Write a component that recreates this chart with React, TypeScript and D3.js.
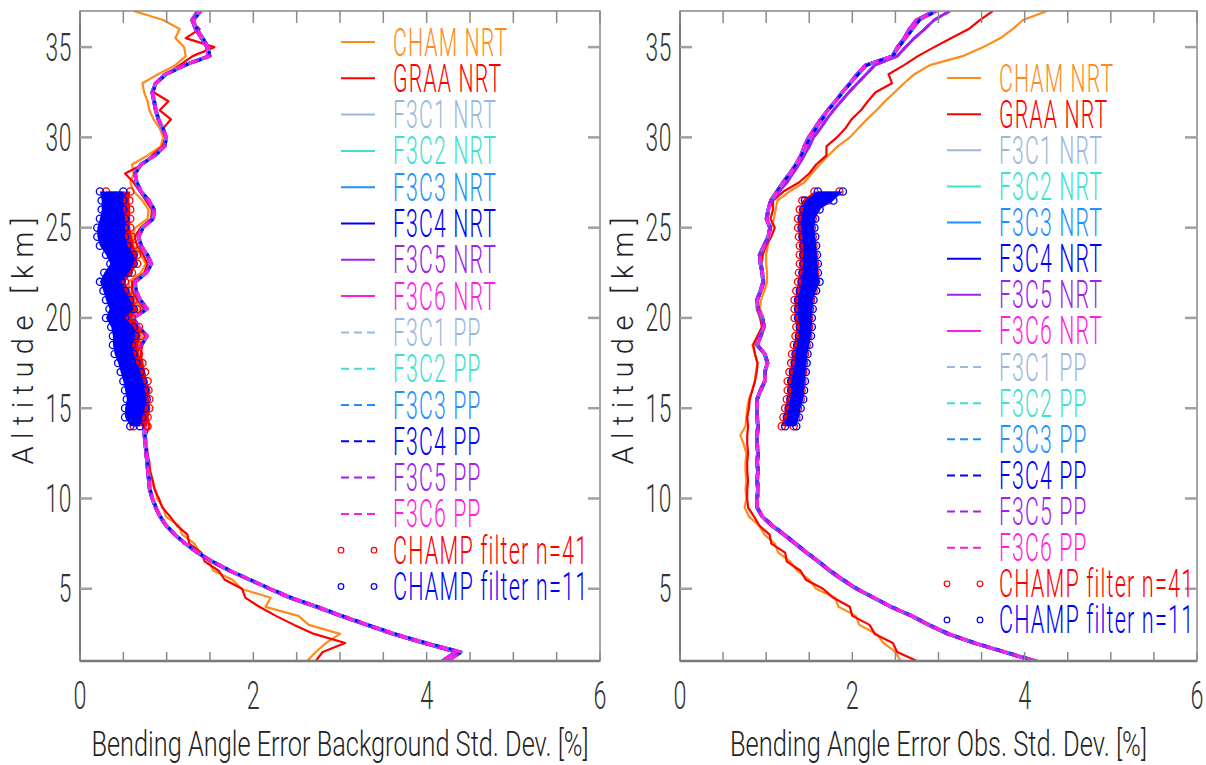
import React from 'react';
import * as d3 from 'd3';

// ---------------- DATA ----------------
// altitude grid (km) shared by all profile lines
const altitudes = [
  1, 1.5, 2, 2.5, 3, 3.5, 4, 4.5, 5, 5.5,
  6, 6.5, 7, 7.5, 8, 8.5, 9, 9.5, 10, 10.5,
  11, 11.5, 12, 12.5, 13, 13.5, 14, 14.5, 15, 15.5,
  16, 16.5, 17, 17.5, 18, 18.5, 19, 19.5, 20, 20.5,
  21, 21.5, 22, 22.5, 23, 23.5, 24, 24.5, 25, 25.5,
  26, 26.5, 27, 27.5, 28, 28.5, 29, 29.5, 30, 30.5,
  31, 31.5, 32, 32.5, 33, 33.5, 34, 34.5, 35, 35.5,
  36, 36.5, 37,
];

// ---- Background std. dev. panel [%] ----
const bgCham = [
  2.62, 2.72, 2.84, 3.00, 2.64, 2.52, 2.14, 2.20, 1.86, 1.76,
  1.54, 1.49, 1.38, 1.32, 1.18, 1.14, 0.99, 0.96, 0.89, 0.87,
  0.82, 0.80, 0.78, 0.77, 0.76, 0.75, 0.74, 0.72, 0.73, 0.72,
  0.70, 0.68, 0.64, 0.60, 0.58, 0.66, 0.72, 0.62, 0.56, 0.70,
  0.63, 0.57, 0.56, 0.70, 0.76, 0.70, 0.62, 0.60, 0.64, 0.78,
  0.79, 0.72, 0.62, 0.58, 0.62, 0.60, 0.78, 0.93, 0.96, 0.92,
  0.85, 0.80, 0.78, 0.74, 0.72, 0.90, 1.10, 1.22, 1.20, 1.10,
  1.15, 0.96, 0.62,
];
const bgGraa = [
  2.72, 2.80, 3.06, 2.70, 2.47, 2.26, 2.07, 1.91, 1.87, 1.67,
  1.60, 1.44, 1.40, 1.26, 1.24, 1.12, 1.04, 0.95, 0.91, 0.86,
  0.84, 0.81, 0.80, 0.78, 0.77, 0.76, 0.80, 0.78, 0.80, 0.78,
  0.80, 0.76, 0.74, 0.72, 0.70, 0.72, 0.77, 0.68, 0.62, 0.74,
  0.66, 0.60, 0.60, 0.74, 0.78, 0.73, 0.66, 0.63, 0.70, 0.82,
  0.83, 0.76, 0.69, 0.62, 0.52, 0.72, 0.83, 0.95, 0.99, 0.96,
  1.05, 0.92, 1.02, 0.85, 0.86, 1.00, 1.15, 1.30, 1.55, 1.22,
  1.38, 1.28, 1.35,
];
const bgF3cNrt = [
  4.18, 4.33, 3.95, 3.60, 3.30, 3.00, 2.72, 2.42, 2.18, 1.95,
  1.72, 1.52, 1.35, 1.21, 1.09, 0.99, 0.92, 0.87, 0.83, 0.80,
  0.79, 0.78, 0.77, 0.76, 0.75, 0.74, 0.74, 0.75, 0.76, 0.75,
  0.74, 0.72, 0.67, 0.64, 0.63, 0.70, 0.77, 0.66, 0.61, 0.77,
  0.69, 0.64, 0.63, 0.76, 0.82, 0.77, 0.70, 0.67, 0.72, 0.84,
  0.85, 0.79, 0.70, 0.65, 0.63, 0.70, 0.86, 0.97, 0.99, 0.95,
  0.90, 0.87, 0.85, 0.83, 0.87, 0.98, 1.20, 1.48, 1.46, 1.40,
  1.33, 1.29, 1.38,
];
const bgF3cPp = [
  4.25, 4.40, 4.00, 3.64, 3.33, 3.03, 2.75, 2.45, 2.20, 1.97,
  1.74, 1.54, 1.36, 1.22, 1.10, 1.00, 0.93, 0.88, 0.84, 0.81,
  0.80, 0.79, 0.78, 0.77, 0.76, 0.75, 0.75, 0.76, 0.77, 0.76,
  0.75, 0.73, 0.68, 0.65, 0.64, 0.71, 0.78, 0.68, 0.62, 0.78,
  0.70, 0.65, 0.64, 0.77, 0.83, 0.78, 0.71, 0.68, 0.73, 0.85,
  0.86, 0.80, 0.71, 0.66, 0.64, 0.71, 0.87, 0.98, 1.00, 0.96,
  0.91, 0.88, 0.86, 0.84, 0.88, 1.00, 1.22, 1.50, 1.48, 1.42,
  1.35, 1.31, 1.40,
];

// ---- Observation std. dev. panel [%] ----
const obsCham = [
  2.56, 2.50, 2.36, 2.28, 2.08, 2.04, 1.84, 1.80, 1.58, 1.50,
  1.36, 1.28, 1.14, 1.10, 0.98, 0.92, 0.80, 0.75, 0.77, 0.76,
  0.77, 0.76, 0.76, 0.77, 0.74, 0.70, 0.76, 0.77, 0.78, 0.80,
  0.84, 0.87, 0.88, 0.90, 0.87, 0.84, 0.90, 0.98, 0.97, 0.93,
  0.94, 0.98, 1.01, 1.01, 1.00, 1.00, 1.02, 1.03, 1.06, 1.09,
  1.11, 1.13, 1.27, 1.44, 1.53, 1.62, 1.72, 1.83, 1.97, 2.07,
  2.17, 2.28, 2.38, 2.49, 2.60, 2.72, 2.90, 3.28, 3.52, 3.72,
  3.86, 3.98, 4.26,
];
const obsGraa = [
  2.75, 2.52, 2.47, 2.26, 2.20, 2.00, 1.97, 1.78, 1.66, 1.46,
  1.40, 1.24, 1.22, 1.06, 1.04, 0.92, 0.86, 0.79, 0.78, 0.78,
  0.79, 0.78, 0.78, 0.79, 0.78, 0.78, 0.79, 0.78, 0.80, 0.81,
  0.84, 0.87, 0.89, 0.90, 0.87, 0.85, 0.90, 0.95, 0.93, 0.89,
  0.90, 0.95, 0.98, 0.96, 0.95, 0.96, 1.00, 1.06, 1.10, 1.05,
  1.08, 1.08, 1.20, 1.38, 1.50, 1.58, 1.70, 1.70, 1.82, 1.92,
  1.99, 2.10, 2.18, 2.27, 2.46, 2.42, 2.60, 2.76, 2.95, 3.15,
  3.35, 3.48, 3.63,
];
const obsF3cNrt = [
  4.10, 3.75, 3.40, 3.10, 2.88, 2.68, 2.44, 2.24, 2.04, 1.88,
  1.73, 1.60, 1.46, 1.33, 1.20, 1.06, 0.95, 0.89, 0.89, 0.90,
  0.89, 0.90, 0.89, 0.90, 0.89, 0.89, 0.90, 0.89, 0.89, 0.89,
  0.93, 0.98, 0.98, 1.01, 0.98, 0.89, 0.93, 0.97, 0.95, 0.90,
  0.89, 0.93, 0.96, 0.95, 0.93, 0.92, 0.97, 1.02, 1.04, 1.00,
  1.02, 1.05, 1.12, 1.19, 1.27, 1.34, 1.40, 1.44, 1.49, 1.56,
  1.63, 1.71, 1.80, 1.88, 1.97, 2.05, 2.15, 2.46, 2.52, 2.60,
  2.66, 2.74, 2.95,
];
const obsF3cPp = [
  4.14, 3.78, 3.43, 3.13, 2.90, 2.70, 2.46, 2.26, 2.06, 1.90,
  1.75, 1.62, 1.48, 1.35, 1.22, 1.08, 0.96, 0.90, 0.90, 0.91,
  0.90, 0.91, 0.90, 0.91, 0.90, 0.90, 0.91, 0.90, 0.90, 0.90,
  0.94, 0.99, 0.99, 1.02, 0.99, 0.90, 0.94, 0.98, 0.96, 0.91,
  0.90, 0.94, 0.97, 0.96, 0.94, 0.93, 0.98, 1.03, 1.05, 1.01,
  1.03, 1.06, 1.13, 1.20, 1.28, 1.35, 1.41, 1.46, 1.51, 1.58,
  1.65, 1.72, 1.81, 1.89, 1.98, 2.07, 2.17, 2.47, 2.54, 2.62,
  2.70, 2.78, 2.98,
];
const obsF3c5 = [
  4.11, 3.76, 3.41, 3.11, 2.89, 2.69, 2.45, 2.25, 2.05, 1.89,
  1.74, 1.61, 1.47, 1.34, 1.21, 1.07, 0.96, 0.90, 0.90, 0.91,
  0.90, 0.91, 0.90, 0.91, 0.90, 0.90, 0.91, 0.90, 0.90, 0.90,
  0.94, 0.99, 0.99, 1.02, 0.99, 0.90, 0.94, 0.98, 0.96, 0.91,
  0.90, 0.94, 0.97, 0.96, 0.94, 0.93, 0.98, 1.03, 1.05, 1.01,
  1.03, 1.06, 1.15, 1.24, 1.31, 1.38, 1.44, 1.50, 1.55, 1.63,
  1.70, 1.78, 1.87, 1.96, 2.06, 2.16, 2.26, 2.52, 2.62, 2.72,
  2.84, 2.95, 3.13,
];

// CHAMP filter clouds: altitude grid and min / max of the circles
const champAltitudes = [
  14, 14.5, 15, 15.5, 16, 16.5, 17, 17.5, 18, 18.5,
  19, 19.5, 20, 20.5, 21, 21.5, 22, 22.5, 23, 23.5,
  24, 24.5, 25, 25.5, 26, 26.5, 27,
];
const bgChamp41Lo = [0.62, 0.58, 0.58, 0.60, 0.58, 0.56, 0.52, 0.50, 0.46, 0.44, 0.44, 0.42, 0.36, 0.40, 0.36, 0.32, 0.30, 0.34, 0.40, 0.36, 0.30, 0.27, 0.27, 0.30, 0.32, 0.32, 0.30];
const bgChamp41Hi = [0.78, 0.78, 0.80, 0.80, 0.79, 0.78, 0.75, 0.72, 0.68, 0.67, 0.70, 0.68, 0.60, 0.66, 0.62, 0.57, 0.52, 0.60, 0.66, 0.66, 0.62, 0.60, 0.58, 0.58, 0.58, 0.57, 0.58];
const bgChamp11Lo = [0.58, 0.52, 0.52, 0.54, 0.52, 0.50, 0.47, 0.44, 0.40, 0.38, 0.38, 0.36, 0.30, 0.34, 0.30, 0.27, 0.23, 0.28, 0.35, 0.30, 0.23, 0.20, 0.20, 0.23, 0.25, 0.25, 0.23];
const bgChamp11Hi = [0.69, 0.72, 0.75, 0.77, 0.75, 0.73, 0.70, 0.65, 0.62, 0.60, 0.64, 0.62, 0.52, 0.62, 0.58, 0.52, 0.48, 0.56, 0.62, 0.62, 0.55, 0.52, 0.52, 0.52, 0.50, 0.50, 0.50];
const obsChamp41Lo = [1.18, 1.20, 1.22, 1.24, 1.25, 1.25, 1.27, 1.29, 1.30, 1.32, 1.34, 1.35, 1.33, 1.33, 1.33, 1.35, 1.37, 1.38, 1.39, 1.39, 1.39, 1.38, 1.37, 1.37, 1.39, 1.42, 1.56];
const obsChamp41Hi = [1.32, 1.35, 1.37, 1.40, 1.41, 1.42, 1.43, 1.44, 1.45, 1.47, 1.49, 1.50, 1.50, 1.51, 1.52, 1.55, 1.58, 1.57, 1.57, 1.56, 1.55, 1.54, 1.53, 1.54, 1.58, 1.72, 1.85];
const obsChamp11Lo = [1.22, 1.24, 1.26, 1.28, 1.29, 1.29, 1.31, 1.33, 1.34, 1.36, 1.38, 1.39, 1.37, 1.37, 1.37, 1.39, 1.41, 1.42, 1.43, 1.43, 1.43, 1.42, 1.41, 1.41, 1.43, 1.45, 1.60];
const obsChamp11Hi = [1.35, 1.38, 1.40, 1.43, 1.44, 1.45, 1.46, 1.47, 1.48, 1.50, 1.52, 1.53, 1.53, 1.54, 1.55, 1.58, 1.62, 1.60, 1.60, 1.59, 1.58, 1.57, 1.56, 1.57, 1.62, 1.78, 1.89];

// ticks
const xLabelTicks = [0, 2, 4, 6];
const xMinorTicks = [0, 0.5, 1, 1.5, 2, 2.5, 3, 3.5, 4, 4.5, 5, 5.5, 6];
const yTicks = [5, 10, 15, 20, 25, 30, 35];

// series names & colours
const centres = ['F3C1', 'F3C2', 'F3C3', 'F3C4', 'F3C5', 'F3C6'];
const f3cColors = ['#9bb8dc', '#40e0d0', '#1e90ff', '#0000ff', '#a020f0', '#ff1ee0'];
const chamColor = '#ff8c1a';
const graaColor = '#ff0000';
const champ41Color = '#ff0000';
const champ11Color = '#0000ff';

// ---------------- LAYOUT ----------------
const W = 1206;
const H = 765;
const TOP = 11;
const BOTTOM = 661;
const FONT = "Roboto, 'DejaVu Sans', sans-serif";
const WEIGHT = 300;

type LineSeries = { name: string; color: string; dashed: boolean; values: number[]; idx: number };
type PanelCfg = {
  id: string;
  x0: number;
  x1: number;
  xLabel: string;
  xLabelLen: number;
  legendX: number;
  legendY0: number;
  legendDy: number;
  lines: LineSeries[];
  champ41: [number[], number[]];
  champ11: [number[], number[]];
};

function buildLines(cham: number[], graa: number[], nrt: (i: number) => number[], pp: (i: number) => number[]): LineSeries[] {
  const out: LineSeries[] = [
    { name: 'CHAM NRT', color: chamColor, dashed: false, values: cham, idx: 0 },
    { name: 'GRAA NRT', color: graaColor, dashed: false, values: graa, idx: 1 },
  ];
  centres.forEach((c, i) => out.push({ name: `${c} NRT`, color: f3cColors[i], dashed: false, values: nrt(i), idx: i }));
  centres.forEach((c, i) => out.push({ name: `${c} PP`, color: f3cColors[i], dashed: true, values: pp(i), idx: i }));
  return out;
}

const panels: PanelCfg[] = [
  {
    id: 'bg',
    x0: 80,
    x1: 600,
    xLabel: 'Bending Angle Error Background Std. Dev. [%]',
    xLabelLen: 497,
    legendX: 341,
    legendY0: 42,
    legendDy: 36.3,
    lines: buildLines(bgCham, bgGraa, () => bgF3cNrt, () => bgF3cPp),
    champ41: [bgChamp41Lo, bgChamp41Hi],
    champ11: [bgChamp11Lo, bgChamp11Hi],
  },
  {
    id: 'obs',
    x0: 680,
    x1: 1197,
    xLabel: 'Bending Angle Error Obs. Std. Dev. [%]',
    xLabelLen: 417,
    legendX: 947,
    legendY0: 78,
    legendDy: 36.13,
    lines: buildLines(obsCham, obsGraa, (i) => (i === 4 ? obsF3c5 : obsF3cNrt), (i) => (i === 4 ? obsF3c5 : obsF3cPp)),
    champ41: [obsChamp41Lo, obsChamp41Hi],
    champ11: [obsChamp11Lo, obsChamp11Hi],
  },
];

function NText(props: {
  x: number;
  y: number;
  size: number;
  sx?: number;
  anchor?: string;
  fill?: string;
  spacing?: number;
  children: React.ReactNode;
}) {
  const { x, y, size, sx = 0.6, anchor = 'start', fill = '#222', spacing = 2, children } = props;
  return (
    <text
      transform={`translate(${x},${y}) scale(${sx},1)`}
      fontSize={size}
      fontWeight={WEIGHT}
      letterSpacing={spacing}
      textAnchor={anchor}
      fill={fill}
      fontFamily={FONT}
    >
      {children}
    </text>
  );
}

function Panel({ cfg }: { cfg: PanelCfg }) {
  const x = d3.scaleLinear().domain([0, 6]).range([cfg.x0, cfg.x1]);
  const y = d3.scaleLinear().domain([1, 37]).range([BOTTOM, TOP]);
  const line = d3
    .line<number>()
    .x((v) => x(v))
    .y((_, i) => y(altitudes[i]));
  const clipId = `clip-${cfg.id}`;

  const cloud = (lohi: [number[], number[]], color: string, key: string) => {
    const [lo, hi] = lohi;
    const area = d3
      .area<number>()
      .y((_, i) => y(champAltitudes[i]))
      .x0((_, i) => x(lo[i]))
      .x1((_, i) => x(hi[i]));
    return (
      <g key={key}>
        <path d={area(champAltitudes) || ''} fill={color} stroke="none" />
        {champAltitudes.map((a, i) => (
          <g key={i}>
            <circle cx={x(lo[i])} cy={y(a)} r={3.6} fill="none" stroke={color} strokeWidth={1.3} />
            <circle cx={x(hi[i])} cy={y(a)} r={3.6} fill="none" stroke={color} strokeWidth={1.3} />
          </g>
        ))}
      </g>
    );
  };

  const legendRows = cfg.lines.length + 2;
  const rowY = (i: number) => cfg.legendY0 + i * cfg.legendDy;
  const midX = (cfg.x0 + cfg.x1) / 2;
  const axisGray = '#8a8a8a';

  return (
    <g>
      <defs>
        <clipPath id={clipId}>
          <rect x={cfg.x0} y={TOP} width={cfg.x1 - cfg.x0} height={BOTTOM - TOP} />
        </clipPath>
      </defs>

      {/* data */}
      <g clipPath={`url(#${clipId})`}>
        {cfg.lines.map((s, i) => (
          <path
            key={i}
            d={line(s.values) || ''}
            fill="none"
            stroke={s.color}
            strokeWidth={s.name.startsWith('F3C') ? 2.9 : 2.2}
            strokeLinejoin="round"
            strokeDasharray={s.dashed ? '8,6' : undefined}
            strokeDashoffset={s.dashed ? s.idx * 2.4 : undefined}
          />
        ))}
        {cloud(cfg.champ41, champ41Color, 'c41')}
        {cloud(cfg.champ11, champ11Color, 'c11')}
      </g>

      {/* frame */}
      <rect x={cfg.x0} y={TOP} width={cfg.x1 - cfg.x0} height={BOTTOM - TOP} fill="none" stroke={axisGray} strokeWidth={1.5} />
      <line x1={cfg.x0} x2={cfg.x1} y1={BOTTOM} y2={BOTTOM} stroke="#7a7a7a" strokeWidth={2.5} />
      <line x1={cfg.x0} x2={cfg.x0} y1={TOP} y2={BOTTOM} stroke="#7a7a7a" strokeWidth={2} />

      {/* x ticks */}
      {xMinorTicks.map((t) => (
        <g key={`xt${t}`}>
          <line x1={x(t)} x2={x(t)} y1={BOTTOM} y2={BOTTOM - 9} stroke={axisGray} strokeWidth={1.5} />
          <line x1={x(t)} x2={x(t)} y1={TOP} y2={TOP + 12} stroke={axisGray} strokeWidth={1.5} />
        </g>
      ))}
      {/* y ticks */}
      {yTicks.map((t) => (
        <g key={`yt${t}`}>
          <line x1={cfg.x0} x2={cfg.x0 + 12} y1={y(t)} y2={y(t)} stroke="#a0a0a0" strokeWidth={2.5} />
          <line x1={cfg.x1} x2={cfg.x1 - 12} y1={y(t)} y2={y(t)} stroke="#a0a0a0" strokeWidth={2.5} />
        </g>
      ))}

      {/* tick labels */}
      {yTicks.map((t) => (
        <NText key={`yl${t}`} x={cfg.x0 - 8} y={y(t) + 13.5} size={38} anchor="end" fill="#333" spacing={1}>
          {t}
        </NText>
      ))}
      {xLabelTicks.map((t) => (
        <NText key={`xl${t}`} x={x(t)} y={709} size={39} anchor="middle" fill="#333" spacing={0}>
          {t}
        </NText>
      ))}

      {/* axis titles */}
      <text
        x={midX}
        y={756}
        fontSize={35}
        fontWeight={WEIGHT}
        textAnchor="middle"
        fill="#222"
        fontFamily={FONT}
        textLength={cfg.xLabelLen}
        lengthAdjust="spacingAndGlyphs"
      >
        {cfg.xLabel}
      </text>
      <text
        transform={`translate(${cfg.x0 - 47},341) rotate(-90)`}
        fontSize={29}
        fontWeight={WEIGHT}
        textAnchor="middle"
        fill="#222"
        fontFamily={FONT}
        textLength={247}
        lengthAdjust="spacing"
      >
        Altitude [km]
      </text>

      {/* legend */}
      {cfg.lines.map((s, i) => (
        <g key={`lg${i}`}>
          <line
            x1={cfg.legendX}
            x2={cfg.legendX + 34}
            y1={rowY(i)}
            y2={rowY(i)}
            stroke={s.color}
            strokeWidth={2}
            strokeDasharray={s.dashed ? '8,5' : undefined}
          />
          <NText x={cfg.legendX + 52} y={rowY(i) + 13.5} size={38} sx={0.56} fill={s.color}>
            {s.name}
          </NText>
        </g>
      ))}
      {[
        { name: 'CHAMP filter n=41', color: champ41Color },
        { name: 'CHAMP filter n=11', color: champ11Color },
      ].map((c, k) => {
        const i = legendRows - 2 + k;
        return (
          <g key={`lc${k}`}>
            <circle cx={cfg.legendX} cy={rowY(i)} r={2.8} fill="none" stroke={c.color} strokeWidth={1.2} />
            <circle cx={cfg.legendX + 33} cy={rowY(i)} r={2.8} fill="none" stroke={c.color} strokeWidth={1.2} />
            <NText x={cfg.legendX + 52} y={rowY(i) + 13.5} size={38} sx={0.57} fill={c.color}>
              {c.name}
            </NText>
          </g>
        );
      })}
    </g>
  );
}

export default function App() {
  return (
    <svg
      width={W}
      height={H}
      viewBox={`0 0 ${W} ${H}`}
      style={{ position: 'absolute', left: 0, top: 0, background: '#fff' }}
    >
      <rect x={0} y={0} width={W} height={H} fill="#fff" />
      {panels.map((p) => (
        <Panel key={p.id} cfg={p} />
      ))}
    </svg>
  );
}
